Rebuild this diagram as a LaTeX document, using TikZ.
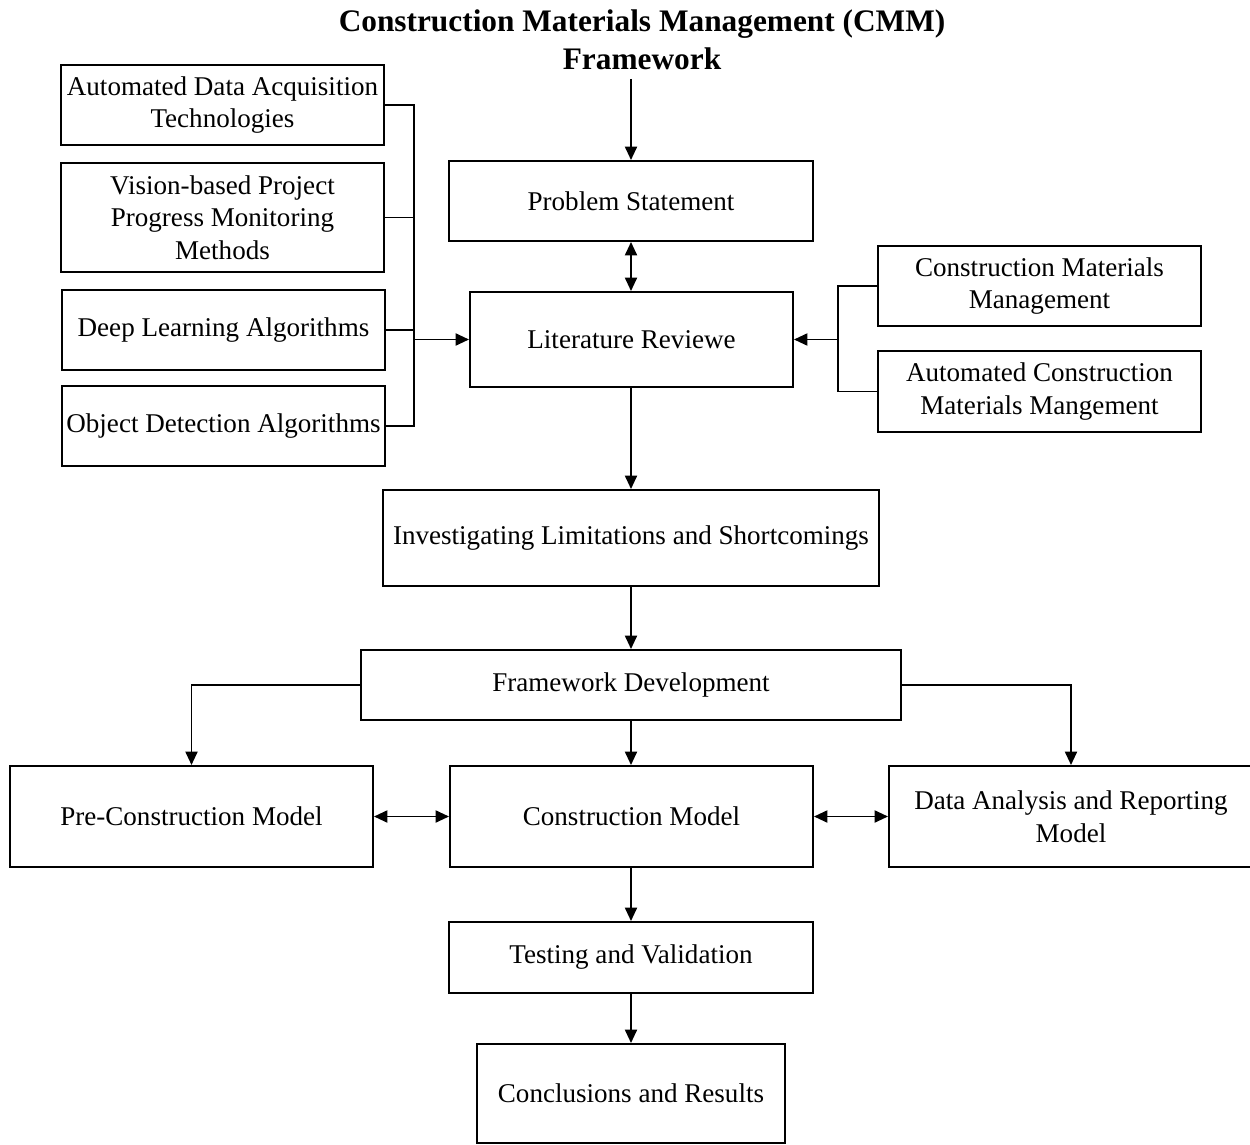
\documentclass[tikz,border=0pt]{standalone}
\usepackage{fontspec}
\setmainfont{Liberation Serif}
\usetikzlibrary{arrows.meta}

% Box given by its two corners in pixel-like units
\newcommand\pbox[6]{%
  \node[box,minimum width={(#4-#2)*0.75pt},minimum height={(#5-#3)*0.75pt}]
    (#1) at ({(#2+#4)/2},{(#3+#5)/2}) {#6};}

\begin{document}
\begin{tikzpicture}[
  x=0.75pt, y=-0.75pt,
  box/.style={draw, line width=1.5pt, inner sep=0pt, align=center,
    font=\fontsize{20.3pt}{24.4pt}\selectfont},
  wire/.style={line width=1.4pt},
  arr/.style={wire, -{Triangle[length=10pt,width=9pt]}},
  darr/.style={wire, {Triangle[length=10pt,width=9pt]}-{Triangle[length=10pt,width=9pt]}}
]
\useasboundingbox (0,0) rectangle (1250,1145);

% title
\node[align=center, font=\fontsize{23.5pt}{28.5pt}\selectfont\bfseries] (title) at (642,40)
  {Construction Materials Management (CMM)\\Framework};

% left column
\pbox{ada}{61}{65}{384}{145}{Automated Data Acquisition\\Technologies}
\pbox{vb}{61}{163}{384}{272}{Vision-based Project\\Progress Monitoring\\Methods}
\pbox{dl}{62}{290}{385}{370}{Deep Learning Algorithms}
\pbox{od}{62}{386}{385}{466}{Object Detection Algorithms}

% main column
\pbox{ps}{449}{161}{813}{241}{Problem Statement}
\pbox{lr}{470}{292}{793}{387}{Literature Reviewe}
\pbox{inv}{383}{490}{879}{586}{Investigating Limitations and Shortcomings}
\pbox{fd}{361}{650}{901}{720}{Framework Development}
\pbox{pc}{10}{766}{373}{867}{Pre-Construction Model}
\pbox{cm}{450}{766}{813}{867}{Construction Model}
\pbox{da}{889}{766}{1253}{867}{Data Analysis and Reporting\\Model}
\pbox{tv}{449}{922}{813}{993}{Testing and Validation}
\pbox{cr}{477}{1044}{785}{1143}{Conclusions and Results}

% right column
\pbox{cmm}{878}{246}{1201}{326}{Construction Materials\\Management}
\pbox{acmm}{878}{351}{1201}{432}{Automated Construction\\Materials Mangement}

% bus junctions
\coordinate (lbus) at (414,0);
\coordinate (rbus) at (838,0);
\coordinate (tin) at (631,79);

% left feeders
\draw[wire] (ada.east) -- (ada.east -| lbus) -- (od.east -| lbus) -- (od.east);
\draw[wire] (vb.east) -- (vb.east -| lbus);
\draw[wire] (dl.east) -- (dl.east -| lbus);
\draw[arr] (lr.west -| lbus) -- (lr.west);

% right feeders
\draw[wire] (cmm.west) -- (cmm.west -| rbus) -- (acmm.west -| rbus) -- (acmm.west);
\draw[arr] (lr.east -| rbus) -- (lr.east);

% main flow
\draw[arr] (tin) -- (ps.north -| tin);
\draw[darr] (ps.south -| tin) -- (lr.north -| tin);
\draw[arr] (lr.south -| tin) -- (inv.north -| tin);
\draw[arr] (inv.south -| tin) -- (fd.north -| tin);
\draw[arr] (fd.south -| tin) -- (cm.north -| tin);
\draw[arr] (fd.west) -| (pc.north);
\draw[arr] (fd.east) -| (da.north);
\draw[darr] (pc.east) -- (cm.west);
\draw[darr] (cm.east) -- (da.west);
\draw[arr] (cm.south -| tin) -- (tv.north -| tin);
\draw[arr] (tv.south -| tin) -- (cr.north -| tin);
\end{tikzpicture}
\end{document}
